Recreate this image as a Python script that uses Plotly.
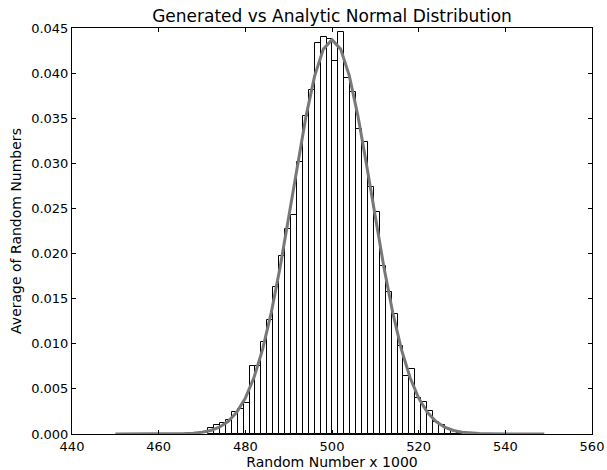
import plotly.graph_objects as go

# Histogram: bin left edges are BIN_START + k * BIN_WIDTH
BIN_START = 500.1
BIN_WIDTH = 1.366
bin_index = list(range(-21, 22))
bin_density = [
    0.0007, 0.0010, 0.0012, 0.0016, 0.0024, 0.0028, 0.0034,
    0.0075, 0.0075, 0.0102, 0.0126,
    0.0163, 0.0197, 0.0227, 0.0243, 0.0302, 0.0353, 0.0381,
    0.0433, 0.0440, 0.0438,
    0.0413, 0.0446, 0.0395, 0.0379, 0.0338, 0.0324, 0.0274, 0.0246,
    0.0186, 0.0157, 0.0133, 0.0097, 0.0064, 0.0072, 0.0040, 0.0035,
    0.0025, 0.0013, 0.0010, 0.0005, 0.0003, 0.0002,
]

# Analytic normal curve values (mean 500, sigma ~9.13)
curve_x = [450, 452, 454, 456, 458, 460, 462, 464, 466, 468, 470, 472, 474, 476, 478,
           480, 482, 484, 486, 488, 490, 492, 494, 496, 498, 500, 502, 504, 506, 508,
           510, 512, 514, 516, 518, 520, 522, 524, 526, 528, 530, 532, 534, 536, 538,
           540, 542, 544, 546, 548, 549]
curve_y = [0.0, 0.0, 0.0, 0.0, 0.000001, 0.000003, 0.0000076, 0.0000184, 0.0000426,
           0.000094, 0.000198, 0.000396, 0.000758, 0.00138, 0.00240, 0.00397, 0.00626,
           0.00941, 0.01349, 0.01842, 0.02399, 0.02977, 0.03521, 0.03970, 0.04266,
           0.04370,
           0.04266, 0.03970, 0.03521, 0.02977, 0.02399, 0.01842, 0.01349, 0.00941,
           0.00626, 0.00397, 0.00240, 0.00138, 0.000758, 0.000396, 0.000198, 0.000094,
           0.0000426, 0.0000184, 0.0000076, 0.000003, 0.000001, 0.0, 0.0, 0.0, 0.0]

x_ticks = [440, 460, 480, 500, 520, 540, 560]
y_ticks = [0.000, 0.005, 0.010, 0.015, 0.020, 0.025, 0.030, 0.035, 0.040, 0.045]

centers = [BIN_START + (k + 0.5) * BIN_WIDTH for k in bin_index]

fig = go.Figure()
fig.add_trace(go.Bar(
    x=centers, y=bin_density, width=BIN_WIDTH,
    marker=dict(color="white", line=dict(color="black", width=1)),
    showlegend=False,
))
fig.add_trace(go.Scatter(
    x=curve_x, y=curve_y, mode="lines",
    line=dict(color="#787878", width=3),
    showlegend=False,
))

font = "DejaVu Sans"
fig.update_layout(
    width=607, height=470,
    margin=dict(l=72, r=15, t=28, b=36),
    paper_bgcolor="white", plot_bgcolor="white",
    font=dict(family=font, size=13, color="black"),
    bargap=0,
    title=dict(text="Generated vs Analytic Normal Distribution",
               x=0.5, xref="paper", xanchor="center",
               y=1 - 16 / 470, yref="container", yanchor="middle",
               font=dict(size=17, family=font, color="black")),
)
fig.update_xaxes(
    range=[440, 560], tickvals=x_ticks, ticktext=[str(v) for v in x_ticks],
    ticks="inside", ticklen=4, tickcolor="black",
    showline=True, linecolor="black", linewidth=1, mirror="ticks",
    showgrid=False, zeroline=False, automargin=False,
    title=dict(text="Random Number x 1000", standoff=3, font=dict(size=14)),
    tickfont=dict(size=13),
)
fig.update_yaxes(
    range=[0, 0.045], tickvals=y_ticks, ticktext=[f"{v:.3f}" for v in y_ticks],
    ticks="inside", ticklen=4, tickcolor="black",
    showline=True, linecolor="black", linewidth=1, mirror="ticks",
    showgrid=False, zeroline=False, automargin=False,
    title=dict(text="Average of Random Numbers", standoff=6, font=dict(size=14)),
    tickfont=dict(size=13),
)

fig.write_html("out.html")
